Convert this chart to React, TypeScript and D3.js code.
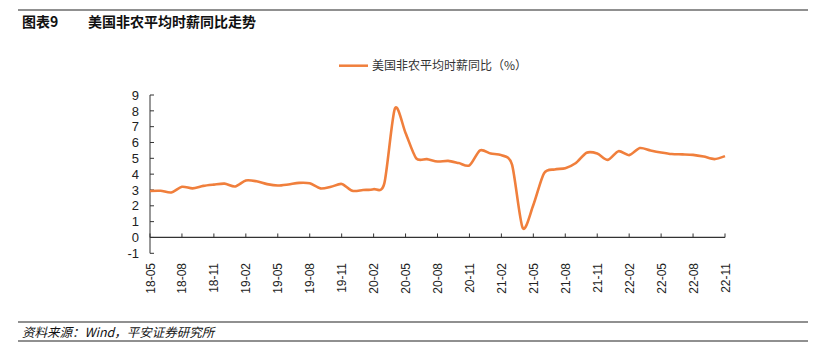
import React from "react";
import * as d3 from "d3";

const months: string[] = [
  "18-05","18-06","18-07","18-08","18-09","18-10","18-11","18-12",
  "19-01","19-02","19-03","19-04","19-05","19-06","19-07","19-08","19-09","19-10","19-11","19-12",
  "20-01","20-02","20-03","20-04","20-05","20-06","20-07","20-08","20-09","20-10","20-11","20-12",
  "21-01","21-02","21-03","21-04","21-05","21-06","21-07","21-08","21-09","21-10","21-11","21-12",
  "22-01","22-02","22-03","22-04","22-05","22-06","22-07","22-08","22-09","22-10","22-11",
];
const wageYoY: number[] = [
  2.94, 2.95, 2.84, 3.2, 3.1, 3.26, 3.34, 3.4,
  3.22, 3.6, 3.55, 3.37, 3.28, 3.35, 3.45, 3.42, 3.1, 3.2, 3.38, 2.95,
  3.0, 3.05, 3.4, 8.15, 6.6, 5.0, 4.95, 4.8, 4.84, 4.7, 4.55, 5.5,
  5.3, 5.2, 4.6, 0.6, 2.05, 4.05, 4.3, 4.38, 4.7, 5.35, 5.3, 4.9,
  5.45, 5.2, 5.65, 5.5, 5.37, 5.27, 5.25, 5.22, 5.11, 4.95, 5.14,
];
const tickLabels: string[] = [
  "18-05","18-08","18-11","19-02","19-05","19-08","19-11","20-02","20-05","20-08",
  "20-11","21-02","21-05","21-08","21-11","22-02","22-05","22-08","22-11",
];
const yTicks: number[] = [-1, 0, 1, 2, 3, 4, 5, 6, 7, 8, 9];
const seriesName = "美国非农平均时薪同比（%）";
const titleNo = "图表9";
const titleText = "美国非农平均时薪同比走势";
const sourceText = "资料来源：Wind，平安证券研究所";

const W = 825;
const H = 355;
const CJK = "'Noto Sans CJK SC', 'Liberation Sans', sans-serif";
const NUM = "'Liberation Sans', Arial, sans-serif";

export default function App() {
  const x = d3.scalePoint<string>().domain(months).range([150, 725]);
  const y = d3.scaleLinear().domain([-1, 9]).range([253.3, 95]);
  const line = d3
    .line<number>()
    .x((_, i) => x(months[i]) as number)
    .y((d) => y(d))
    .curve(d3.curveCardinal.tension(0.2));
  const path = line(wageYoY) || "";
  const axisColor = "#333";
  const orange = "#F07F3C";

  return (
    <div style={{ position: "absolute", left: 0, top: 0 }}>
      <svg width={W} height={H} style={{ display: "block", background: "#fff" }}>
        {/* header */}
        <line x1={18} x2={808} y1={10} y2={10} stroke="#222" strokeWidth={1.2} />
        <text x={22} y={27} fontFamily={CJK} fontSize={14} fontWeight="bold" fill="#111">
          {titleNo}
        </text>
        <text x={88} y={27} fontFamily={CJK} fontSize={14} fontWeight="bold" fill="#111">
          {titleText}
        </text>

        {/* legend */}
        <line x1={339} x2={368} y1={65.7} y2={65.7} stroke={orange} strokeWidth={2.5} />
        <text x={372} y={70} fontFamily={CJK} fontSize={12} fill="#333">
          {seriesName}
        </text>

        {/* y axis */}
        <line x1={150} x2={150} y1={y(9)} y2={y(-1)} stroke={axisColor} strokeWidth={1} />
        {yTicks.map((t) => (
          <g key={t}>
            <line x1={150} x2={154} y1={y(t)} y2={y(t)} stroke={axisColor} strokeWidth={1} />
            <text
              x={139}
              y={y(t)}
              dy="0.36em"
              textAnchor="end"
              fontFamily={NUM}
              fontSize={13}
              fill="#222"
            >
              {t}
            </text>
          </g>
        ))}

        {/* x axis */}
        <line x1={150} x2={725} y1={y(0)} y2={y(0)} stroke={axisColor} strokeWidth={1.3} />
        {tickLabels.map((lab) => {
          const px = x(lab) as number;
          return (
            <g key={lab}>
              <line x1={px} x2={px} y1={y(0)} y2={y(0) - 4} stroke={axisColor} strokeWidth={1} />
              <text
                transform={`translate(${px + 4.5},263) rotate(-90)`}
                textAnchor="end"
                fontFamily={NUM}
                fontSize={12}
                fill="#222"
              >
                {lab}
              </text>
            </g>
          );
        })}

        {/* series */}
        <path d={path} fill="none" stroke={orange} strokeWidth={2.6} strokeLinejoin="round" />

        {/* footer */}
        <line x1={18} x2={808} y1={322} y2={322} stroke="#222" strokeWidth={1.2} />
        <text x={22} y={337} fontFamily={CJK} fontSize={12.5} fontStyle="italic" fill="#111">
          {sourceText}
        </text>
        <line x1={18} x2={808} y1={341} y2={341} stroke="#222" strokeWidth={1.2} />
      </svg>
    </div>
  );
}
